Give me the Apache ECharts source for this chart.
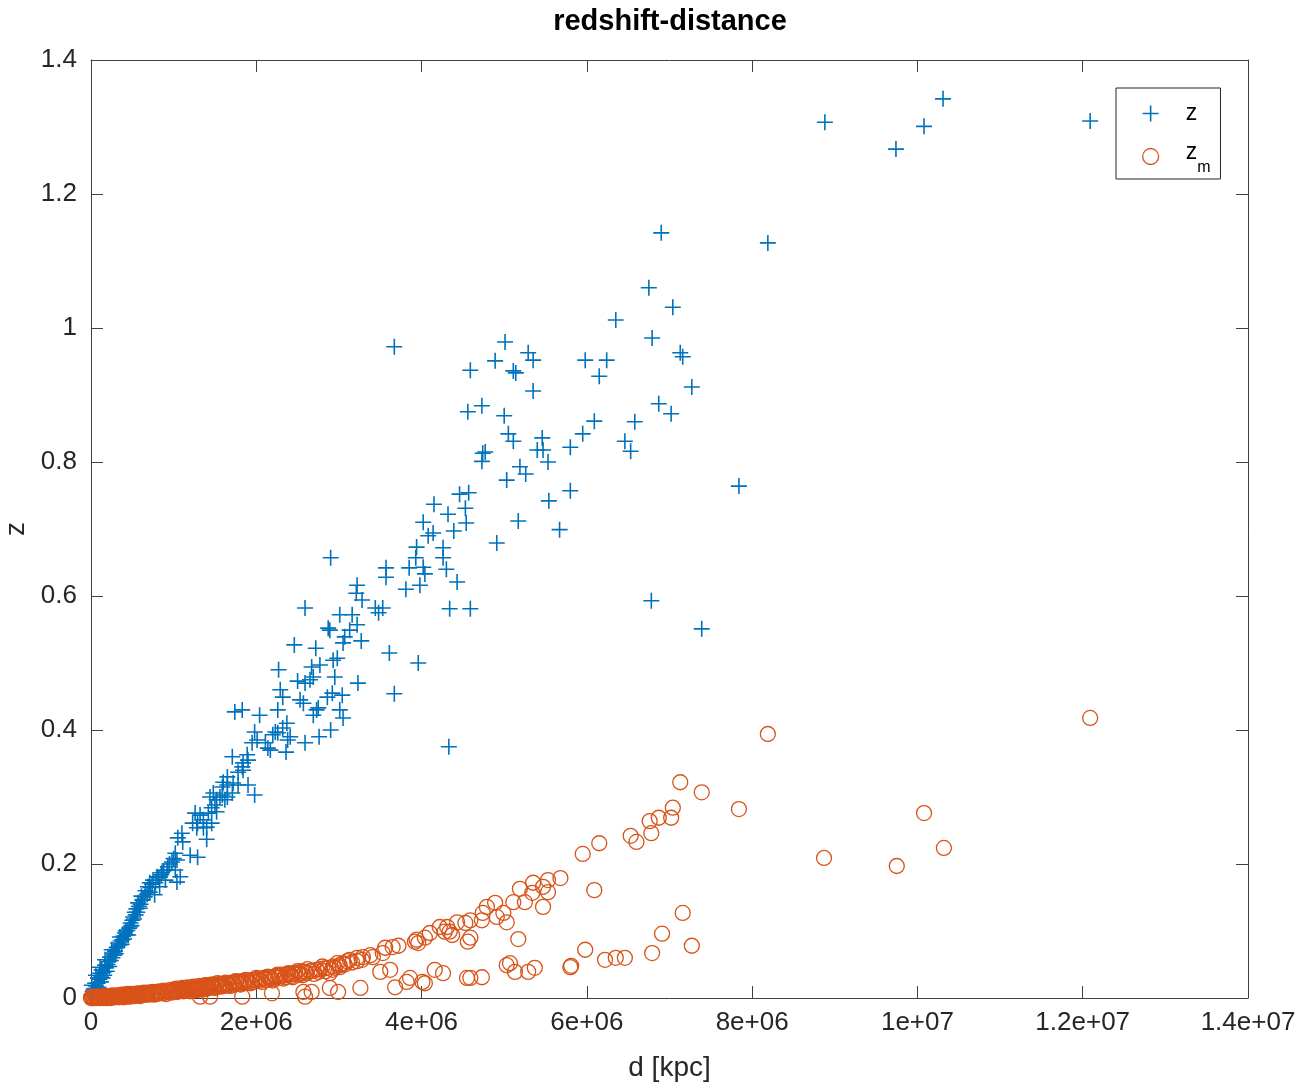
<!DOCTYPE html>
<html>
<head>
<meta charset="utf-8">
<title>redshift-distance</title>
<script src="https://cdn.jsdelivr.net/npm/echarts@6/dist/echarts.min.js"></script>
<style>
  html, body { margin: 0; padding: 0; background: #fff; }
  #chart { width: 1312px; height: 1086px; }
</style>
</head>
<body>
<div id="chart"></div>
<script>
// distances in units of 1e6 kpc
const dZ = [
  12.09, 10.31, 10.08, 9.74, 8.88, 8.19, 7.84, 7.39, 6.78, 6.90, 6.75, 7.04, 6.35, 3.67, 5.01, 5.29, 5.35, 4.89, 4.59, 5.11,
  5.14, 5.35, 5.98, 6.24, 6.15, 6.79, 7.13, 7.16, 7.27, 6.87, 7.02, 4.56, 4.73, 5.00, 6.58, 6.09, 5.95, 6.46, 6.53, 5.80,
  5.05, 5.11, 5.46, 5.40, 5.47, 5.53, 4.74, 4.77, 4.73, 5.19, 5.26, 5.03, 5.80, 5.54, 5.17, 5.67, 4.91, 4.46, 4.57, 4.15,
  4.53, 4.32, 4.02, 4.54, 4.39, 4.14, 4.08, 3.94, 4.26, 3.93, 4.26, 3.57, 3.57, 3.85, 4.02, 4.04, 4.30, 3.22, 3.21, 3.28,
  2.59, 2.90, 3.81, 3.98, 4.43, 4.34, 4.59, 3.44, 3.48, 3.53, 3.01, 3.16, 2.87, 2.89, 3.13, 3.22, 2.72, 3.07, 3.05, 3.27,
  3.61, 2.93, 2.98, 2.67, 2.77, 2.95, 3.96, 2.59, 2.65, 2.92, 3.04, 3.23, 3.67, 2.73, 2.69, 3.01, 3.05, 2.90, 2.76, 2.59,
  4.33, 2.46, 2.27, 2.50, 2.69, 2.29, 2.32, 2.53, 2.57, 2.86, 1.74, 1.83, 2.04, 2.26, 2.75, 2.37, 2.32, 2.26, 2.23, 2.41,
  2.38, 2.20, 2.01, 1.98, 1.95, 2.11, 2.14, 2.17, 2.36, 1.89, 1.90, 1.84, 1.83, 1.71, 1.78, 1.84, 1.65, 1.60, 1.59, 1.65,
  1.72, 1.90, 1.98, 1.48, 1.44, 1.56, 1.65, 1.78, 1.71, 1.59, 1.52, 1.62, 1.50, 1.46, 1.42, 1.52, 1.26, 1.32, 1.36, 1.29,
  1.23, 1.28, 1.36, 1.40, 1.46, 1.40, 1.10, 1.05, 1.11, 1.29, 1.20, 1.02, 1.04, 0.98, 0.93, 0.92, 1.02, 1.08, 1.04, 0.86,
  0.80, 0.75, 0.71, 0.69, 0.90, 0.83, 0.77, 0.71, 0.65, 0.62, 0.57, 0.59, 0.53, 0.51, 0.50, 0.47, 0.45, 0.44, 0.41, 0.35,
  0.38, 0.33, 0.31, 0.27, 0.25, 0.23, 0.21, 0.17, 0.17, 0.13, 0.11, 0.11, 0.085, 0.06, 0.05, 0.03, 0.01, 0.02
];
const zVals = [
  1.309, 1.342, 1.301, 1.267, 1.307, 1.127, 0.764, 0.551, 0.593, 1.142, 1.060, 1.031, 1.012, 0.972, 0.979, 0.963, 0.952, 0.951, 0.937, 0.936,
  0.933, 0.906, 0.952, 0.952, 0.928, 0.985, 0.963, 0.957, 0.912, 0.887, 0.872, 0.875, 0.884, 0.869, 0.860, 0.861, 0.842, 0.831, 0.816, 0.822,
  0.842, 0.831, 0.836, 0.818, 0.818, 0.800, 0.813, 0.815, 0.801, 0.793, 0.782, 0.773, 0.757, 0.742, 0.712, 0.699, 0.679, 0.752, 0.754, 0.737,
  0.731, 0.722, 0.710, 0.709, 0.697, 0.694, 0.690, 0.673, 0.672, 0.657, 0.657, 0.642, 0.628, 0.642, 0.643, 0.633, 0.640, 0.616, 0.604, 0.594,
  0.582, 0.657, 0.610, 0.616, 0.621, 0.581, 0.581, 0.582, 0.575, 0.582, 0.572, 0.572, 0.552, 0.549, 0.549, 0.557, 0.522, 0.539, 0.530, 0.533,
  0.515, 0.504, 0.507, 0.494, 0.497, 0.479, 0.500, 0.470, 0.475, 0.455, 0.452, 0.470, 0.454, 0.430, 0.422, 0.430, 0.418, 0.400, 0.390, 0.381,
  0.375, 0.527, 0.490, 0.473, 0.479, 0.460, 0.449, 0.445, 0.440, 0.449, 0.427, 0.430, 0.422, 0.430, 0.433, 0.410, 0.403, 0.396, 0.397, 0.390,
  0.385, 0.393, 0.385, 0.397, 0.381, 0.381, 0.373, 0.370, 0.367, 0.363, 0.355, 0.351, 0.345, 0.360, 0.337, 0.340, 0.330, 0.322, 0.315, 0.318,
  0.321, 0.318, 0.303, 0.306, 0.300, 0.300, 0.300, 0.318, 0.306, 0.303, 0.296, 0.296, 0.288, 0.284, 0.276, 0.278, 0.276, 0.273, 0.266, 0.261,
  0.261, 0.254, 0.254, 0.255, 0.261, 0.237, 0.246, 0.239, 0.233, 0.210, 0.213, 0.216, 0.206, 0.203, 0.196, 0.191, 0.191, 0.181, 0.173, 0.187,
  0.181, 0.176, 0.172, 0.166, 0.176, 0.166, 0.154, 0.158, 0.151, 0.146, 0.142, 0.134, 0.128, 0.121, 0.116, 0.106, 0.094, 0.101, 0.097, 0.091,
  0.087, 0.082, 0.075, 0.067, 0.072, 0.061, 0.054, 0.057, 0.049, 0.042, 0.046, 0.037, 0.030, 0.034, 0.022, 0.012, 0.019, 0.006
];
// the crowded run of crosses next to the origin
const dZnear = [
  0.00, 0.02, 0.03, 0.04, 0.05, 0.06, 0.07, 0.08, 0.09, 0.10, 0.12, 0.12, 0.14, 0.15, 0.16, 0.18, 0.19, 0.20, 0.22, 0.24,
  0.26, 0.28, 0.29, 0.30, 0.32, 0.34, 0.36, 0.37, 0.39, 0.40, 0.42, 0.43, 0.46, 0.48, 0.49, 0.52, 0.54, 0.55, 0.56, 0.58,
  0.60, 0.61, 0.63, 0.66, 0.68, 0.72, 0.74, 0.78, 0.82, 0.85, 0.88, 0.95, 1.00
];
const zNear = [
  0.004, 0.010, 0.004, 0.014, 0.010, 0.018, 0.013, 0.022, 0.016, 0.028, 0.024, 0.033, 0.030, 0.038, 0.034, 0.045, 0.040, 0.050, 0.047, 0.056,
  0.060, 0.064, 0.070, 0.066, 0.076, 0.079, 0.085, 0.080, 0.092, 0.088, 0.100, 0.094, 0.104, 0.112, 0.108, 0.118, 0.124, 0.133, 0.128, 0.137,
  0.140, 0.152, 0.147, 0.160, 0.155, 0.165, 0.170, 0.172, 0.180, 0.184, 0.190, 0.200, 0.208
];

const dZm = [
  0.00, 0.02, 0.05, 0.08, 0.12, 0.16, 0.20, 0.25, 0.30, 0.35, 0.40, 0.45, 0.50, 0.55, 0.60, 0.66, 0.72, 0.78, 0.85, 0.92,
  1.00, 1.05, 1.10, 1.18, 1.25, 1.30, 1.36, 1.42, 1.48, 1.55, 1.60, 1.66, 1.72, 1.78, 1.84, 1.90, 1.98, 2.04, 2.11, 2.17,
  2.23, 2.29, 2.36, 2.41, 2.46, 2.53, 2.59, 2.65, 2.73, 2.77, 2.87, 2.93, 3.01, 3.07, 3.16, 3.22, 3.28,
  1.32, 1.44, 1.83, 2.19, 2.57, 2.59, 2.67, 2.89, 2.99, 3.26,
  3.22, 3.13, 3.05, 3.01, 2.95, 2.92, 2.89, 3.29, 3.38, 3.41, 3.53, 3.56, 3.65, 3.72, 3.50, 3.62, 3.68, 3.82, 3.86, 4.01,
  4.04, 4.16, 4.26, 4.55, 4.59, 4.73, 5.03, 5.07, 5.13, 5.29, 5.37, 5.80, 5.81, 5.98, 6.22, 6.35, 6.46, 6.79, 6.91, 7.16, 7.27,
  3.92, 3.94, 3.96, 4.04, 4.10, 4.22, 4.28, 4.31, 4.34, 4.37, 4.43, 4.53, 4.59, 4.56, 4.59, 4.73, 4.74, 4.79, 4.89, 4.91,
  4.99, 5.03, 5.11, 5.17, 5.19, 5.25, 5.34, 5.35, 5.47, 5.47, 5.53, 5.53, 5.68, 5.95, 6.15, 6.09, 6.53, 6.60, 6.76, 6.78,
  6.87, 7.04, 7.02, 7.13, 7.39, 7.84, 8.19, 8.87, 9.75, 10.08, 10.32, 12.09
];
const zmVals = [
  0.000, 0.000, 0.001, 0.001, 0.001, 0.002, 0.002, 0.003, 0.003, 0.004, 0.004, 0.005, 0.005, 0.006, 0.006, 0.007, 0.007, 0.008, 0.009, 0.010,
  0.011, 0.012, 0.012, 0.013, 0.014, 0.015, 0.016, 0.017, 0.018, 0.019, 0.020, 0.021, 0.022, 0.023, 0.024, 0.025, 0.027, 0.028, 0.029, 0.030,
  0.031, 0.033, 0.034, 0.035, 0.036, 0.037, 0.039, 0.040, 0.042, 0.043, 0.045, 0.047, 0.049, 0.050, 0.053, 0.055, 0.057,
  0.002, 0.002, 0.002, 0.007, 0.009, 0.002, 0.009, 0.015, 0.009, 0.015,
  0.060, 0.057, 0.052, 0.046, 0.045, 0.042, 0.037, 0.061, 0.064, 0.061, 0.067, 0.075, 0.076, 0.078, 0.039, 0.042, 0.016, 0.024, 0.030, 0.024,
  0.022, 0.042, 0.037, 0.030, 0.030, 0.031, 0.049, 0.052, 0.039, 0.039, 0.045, 0.046, 0.048, 0.072, 0.057, 0.060, 0.060, 0.067, 0.096, 0.127, 0.078,
  0.084, 0.087, 0.082, 0.090, 0.097, 0.106, 0.099, 0.106, 0.099, 0.094, 0.113, 0.112, 0.116, 0.084, 0.090, 0.116, 0.127, 0.136, 0.142, 0.121,
  0.127, 0.113, 0.143, 0.088, 0.163, 0.143, 0.157, 0.172, 0.166, 0.136, 0.176, 0.158, 0.179, 0.215, 0.231, 0.161, 0.242, 0.233, 0.264, 0.246,
  0.269, 0.284, 0.269, 0.322, 0.307, 0.282, 0.394, 0.209, 0.197, 0.276, 0.224, 0.418
];
// the solid orange band along the bottom
const dZmNear = [
  0.01, 0.03, 0.04, 0.06, 0.07, 0.09, 0.10, 0.11, 0.13, 0.14, 0.15, 0.17, 0.18, 0.19, 0.21, 0.22, 0.23, 0.24, 0.26, 0.27,
  0.28, 0.29, 0.31, 0.32, 0.33, 0.34, 0.36, 0.37, 0.38, 0.39, 0.41, 0.42, 0.43, 0.44, 0.46, 0.47, 0.48, 0.49, 0.51, 0.52,
  0.53, 0.54, 0.56, 0.57, 0.58, 0.59, 0.61, 0.62, 0.63, 0.64, 0.65, 0.67, 0.68, 0.69, 0.70, 0.73, 0.74, 0.75, 0.76, 0.79,
  0.80, 0.82, 0.83, 0.86, 0.88, 0.89, 0.91, 0.94, 0.96, 0.97, 0.99, 1.02, 1.04, 1.07, 1.08, 1.12, 1.14, 1.16, 1.20, 1.22,
  1.27, 1.33, 1.38, 1.40, 1.45, 1.50, 1.53, 1.58, 1.63, 1.69, 1.75, 1.81, 1.87, 1.93, 2.00, 2.07, 2.14, 2.20, 2.26, 2.33,
  2.39, 2.44, 2.50, 2.56, 2.62, 2.70, 2.80, 2.84, 2.98, 3.10
];
const zmNear = [
  0.002, 0.001, 0.000, 0.002, 0.000, 0.002, 0.001, 0.000, 0.002, 0.001, 0.000, 0.003, 0.001, 0.000, 0.003, 0.001, 0.002, 0.000, 0.004, 0.002,
  0.001, 0.003, 0.002, 0.004, 0.001, 0.003, 0.002, 0.005, 0.003, 0.001, 0.005, 0.003, 0.002, 0.006, 0.004, 0.002, 0.006, 0.003, 0.004, 0.006,
  0.003, 0.005, 0.004, 0.007, 0.005, 0.003, 0.007, 0.004, 0.006, 0.008, 0.005, 0.006, 0.008, 0.005, 0.007, 0.006, 0.009, 0.007, 0.005, 0.006,
  0.009, 0.007, 0.010, 0.007, 0.011, 0.008, 0.006, 0.009, 0.012, 0.008, 0.010, 0.013, 0.009, 0.011, 0.014, 0.010, 0.015, 0.012, 0.010, 0.016,
  0.012, 0.013, 0.019, 0.014, 0.020, 0.015, 0.022, 0.017, 0.023, 0.018, 0.025, 0.020, 0.027, 0.022, 0.030, 0.024, 0.032, 0.026, 0.035, 0.029,
  0.037, 0.031, 0.040, 0.034, 0.043, 0.036, 0.047, 0.040, 0.052, 0.055
];
// more of the same band between 1e6 and 3e6 kpc
const dZmBand = [
  1.01, 1.03, 1.06, 1.09, 1.11, 1.13, 1.15, 1.17, 1.19, 1.21, 1.23, 1.24, 1.26, 1.28, 1.29, 1.31, 1.34, 1.35, 1.37, 1.39,
  1.41, 1.43, 1.46, 1.47, 1.49, 1.51, 1.54, 1.56, 1.57, 1.59, 1.62, 1.64, 1.67, 1.70, 1.73, 1.76, 1.79, 1.82, 1.85, 1.88,
  1.91, 1.95, 1.97, 2.02, 2.05, 2.09, 2.12, 2.16, 2.19, 2.24, 2.28, 2.31, 2.35, 2.38, 2.43, 2.47, 2.52, 2.55, 2.61, 2.68,
  2.75, 2.82
];
const zmBand = [
  0.010, 0.014, 0.010, 0.013, 0.015, 0.011, 0.013, 0.016, 0.012, 0.014, 0.011, 0.017, 0.013, 0.016, 0.012, 0.018, 0.014, 0.017, 0.013, 0.016,
  0.019, 0.015, 0.017, 0.020, 0.016, 0.019, 0.017, 0.021, 0.018, 0.020, 0.018, 0.022, 0.019, 0.023, 0.020, 0.024, 0.021, 0.025, 0.022, 0.026,
  0.023, 0.027, 0.024, 0.029, 0.026, 0.030, 0.027, 0.031, 0.028, 0.033, 0.030, 0.035, 0.031, 0.036, 0.033, 0.038, 0.035, 0.040, 0.037, 0.041,
  0.039, 0.044
];

const xTicks = [0, 2e6, 4e6, 6e6, 8e6, 1e7, 1.2e7, 1.4e7];
const yTicks = [0, 0.2, 0.4, 0.6, 0.8, 1, 1.2, 1.4];

const blue = '#0072BD';
const orange = '#D95319';
const axisColor = '#404040';
const textColor = '#262626';
const font = '"Liberation Sans", Arial, Helvetica, sans-serif';
const plusPath = 'path://M7.2,0H8.8V16H7.2Z M0,7.2H16V8.8H0Z';

const allDZ = dZ.concat(dZnear);
const allZ = zVals.concat(zNear);
const allDZm = dZm.concat(dZmNear, dZmBand);
const allZm = zmVals.concat(zmNear, zmBand);
const zData = allDZ.map((d, i) => [d * 1e6, allZ[i]]);
const zmData = allDZm.map((d, i) => [d * 1e6, allZm[i]]);

function expLabel(v) {
  if (v === 0) return '0';
  return v.toExponential().replace(/e\+(\d)$/, 'e+0$1');
}

const xBase = {
  type: 'value',
  min: xTicks[0],
  max: xTicks[xTicks.length - 1],
  interval: xTicks[1] - xTicks[0],
  splitLine: { show: false },
  axisLine: { onZero: false, lineStyle: { color: axisColor, width: 1 } },
  axisTick: { inside: true, length: 12, lineStyle: { color: axisColor } }
};
const yBase = {
  type: 'value',
  min: yTicks[0],
  max: yTicks[yTicks.length - 1],
  interval: yTicks[1] - yTicks[0],
  splitLine: { show: false },
  axisLine: { onZero: false, lineStyle: { color: axisColor, width: 1 } },
  axisTick: { inside: true, length: 12, lineStyle: { color: axisColor } }
};

const chart = echarts.init(document.getElementById('chart'));
chart.setOption({
  animation: false,
  backgroundColor: '#fff',
  textStyle: { fontFamily: font },
  title: {
    text: 'redshift-distance',
    left: 665,
    top: 2,
    textAlign: 'center',
    textStyle: { fontFamily: font, fontSize: 29, fontWeight: 'bold', color: '#000' }
  },
  grid: { left: 91, right: 64, top: 60, bottom: 88, containLabel: false, outerBoundsMode: 'none' },
  xAxis: [
    Object.assign({}, xBase, {
      position: 'bottom',
      name: 'd [kpc]',
      nameLocation: 'middle',
      nameGap: 56,
      nameTextStyle: { fontFamily: font, fontSize: 28, color: textColor },
      axisLabel: { margin: 12, fontSize: 26, color: textColor, fontFamily: font, formatter: expLabel }
    }),
    Object.assign({}, xBase, { position: 'top', axisLabel: { show: false } })
  ],
  yAxis: [
    Object.assign({}, yBase, {
      position: 'left',
      name: 'z',
      nameLocation: 'middle',
      nameGap: 60,
      nameRotate: 90,
      nameTextStyle: { fontFamily: font, fontSize: 28, color: textColor },
      axisLabel: { margin: 14, fontSize: 26, color: textColor, fontFamily: font }
    }),
    Object.assign({}, yBase, { position: 'right', axisLabel: { show: false } })
  ],
  legend: {
    orient: 'vertical',
    left: 1116,
    top: 88,
    padding: [14, 10, 0, 26],
    itemWidth: 60,
    itemHeight: 16,
    itemGap: 9,
    backgroundColor: '#fff',
    borderColor: '#262626',
    borderWidth: 1,
    borderRadius: 0,
    selectedMode: false,
    data: [
      { name: 'z', icon: plusPath, itemStyle: { color: blue, borderWidth: 0 } },
      { name: 'zm', icon: 'circle', itemStyle: { color: 'rgba(0,0,0,0)', borderColor: orange, borderWidth: 1.3 } }
    ],
    formatter: function (name) {
      return name === 'z' ? '{a|z}' : '{b|z}{s|m}';
    },
    textStyle: {
      fontFamily: font,
      fontSize: 23,
      color: '#000',
      rich: {
        a: { fontFamily: font, fontSize: 23, color: '#000' },
        b: { fontFamily: font, fontSize: 23, lineHeight: 14, padding: [7, 0, 15, 0], color: '#000' },
        s: { fontFamily: font, fontSize: 16, lineHeight: 14, padding: [22, 0, 0, 0], color: '#000' }
      }
    }
  },
  series: [
    {
      name: 'z',
      type: 'scatter',
      xAxisIndex: 0,
      yAxisIndex: 0,
      symbol: plusPath,
      symbolSize: 16,
      itemStyle: { color: blue, opacity: 1 },
      emphasis: { disabled: true },
      data: zData
    },
    {
      name: 'zm',
      type: 'scatter',
      xAxisIndex: 0,
      yAxisIndex: 0,
      symbol: 'circle',
      symbolSize: 15,
      itemStyle: { color: 'rgba(0,0,0,0)', borderColor: orange, borderWidth: 1.3, opacity: 1 },
      emphasis: { disabled: true },
      data: zmData
    }
  ]
});
</script>
</body>
</html>
